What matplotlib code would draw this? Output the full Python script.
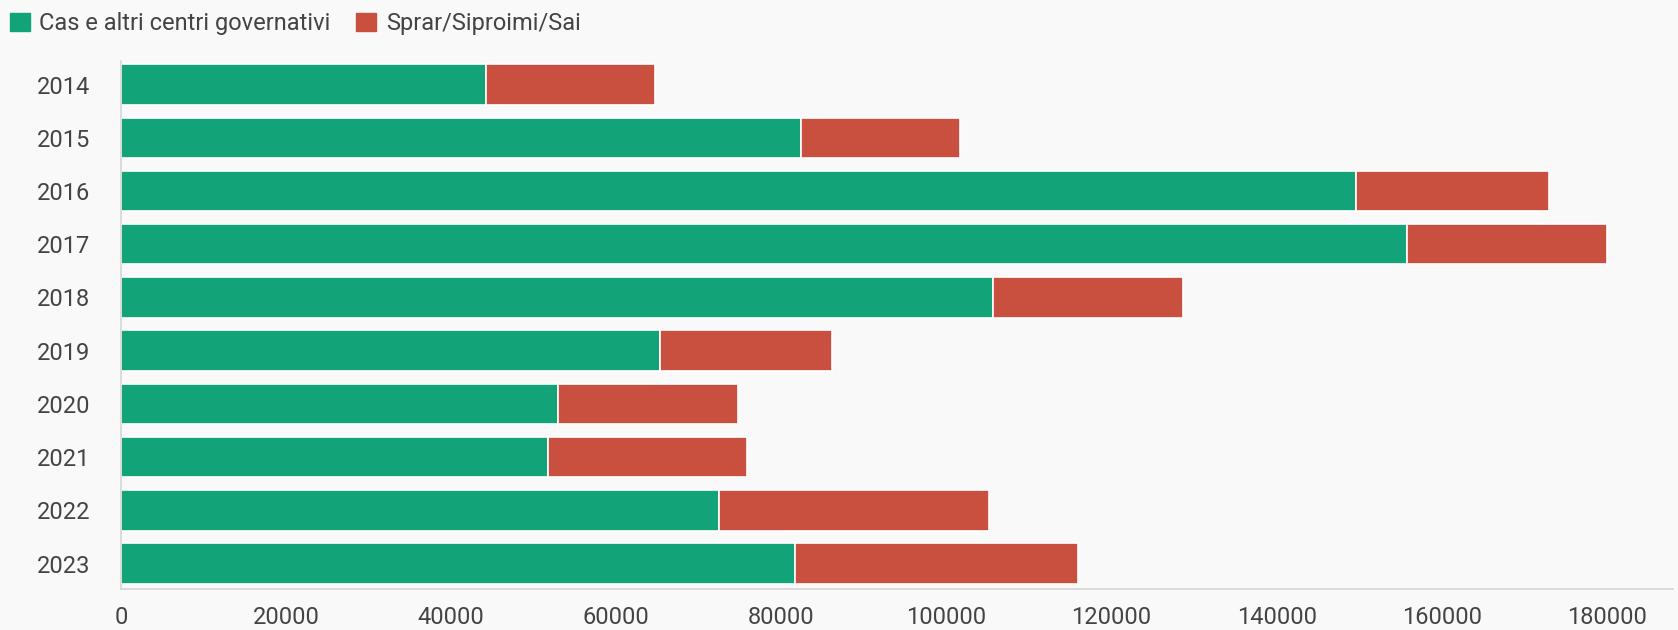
import matplotlib.pyplot as plt
from matplotlib.patches import Patch

plt.rcParams['font.family'] = ['Roboto', 'DejaVu Sans']

YEARS = ['2014', '2015', '2016', '2017', '2018', '2019', '2020', '2021', '2022', '2023']
CAS = [44200, 82400, 149600, 155800, 105600, 65300, 53000, 51800, 72400, 81700]
SPRAR = [20500, 19300, 23400, 24200, 23100, 20800, 21700, 24000, 32700, 34200]
X_TICKS = [0, 20000, 40000, 60000, 80000, 100000, 120000, 140000, 160000, 180000]

GREEN = '#13a378'
RED = '#c9503e'
BG = '#f9f9f9'
TEXT = '#444444'


def draw():
    fig = plt.figure(figsize=(16.78, 6.3), dpi=100)
    fig.patch.set_facecolor(BG)
    ax = fig.add_axes([0.072, 0.065, 0.925, 0.838])
    ax.set_facecolor(BG)

    pos = list(range(len(YEARS)))
    ax.barh(pos, CAS, height=0.76, color=GREEN, edgecolor='white', linewidth=1.2)
    ax.barh(pos, SPRAR, left=CAS, height=0.76, color=RED, edgecolor='white', linewidth=1.2)

    ax.set_ylim(9.48, -0.44)
    ax.set_xlim(0, 188000)
    ax.set_yticks(pos)
    ax.set_yticklabels(YEARS)
    ax.set_xticks(X_TICKS)
    ax.set_xticklabels([str(t) for t in X_TICKS])
    ax.tick_params(axis='both', length=0, labelsize=17, colors=TEXT)
    ax.tick_params(axis='y', pad=22)
    ax.tick_params(axis='x', pad=12)

    for side in ['top', 'right']:
        ax.spines[side].set_visible(False)
    for side in ['left', 'bottom']:
        ax.spines[side].set_color('#d6d6d6')
        ax.spines[side].set_linewidth(1.2)

    handles = [Patch(color=GREEN, label='Cas e altri centri governativi'),
               Patch(color=RED, label='Sprar/Siproimi/Sai')]
    fig.legend(handles=handles, loc='upper left', bbox_to_anchor=(-0.007, 1.015),
               ncol=2, frameon=False, fontsize=17, handlelength=0.85,
               handleheight=0.8, handletextpad=0.4, columnspacing=1.1,
               labelcolor=TEXT)

    fig.savefig('out.png', dpi=100, facecolor=BG)


draw()
